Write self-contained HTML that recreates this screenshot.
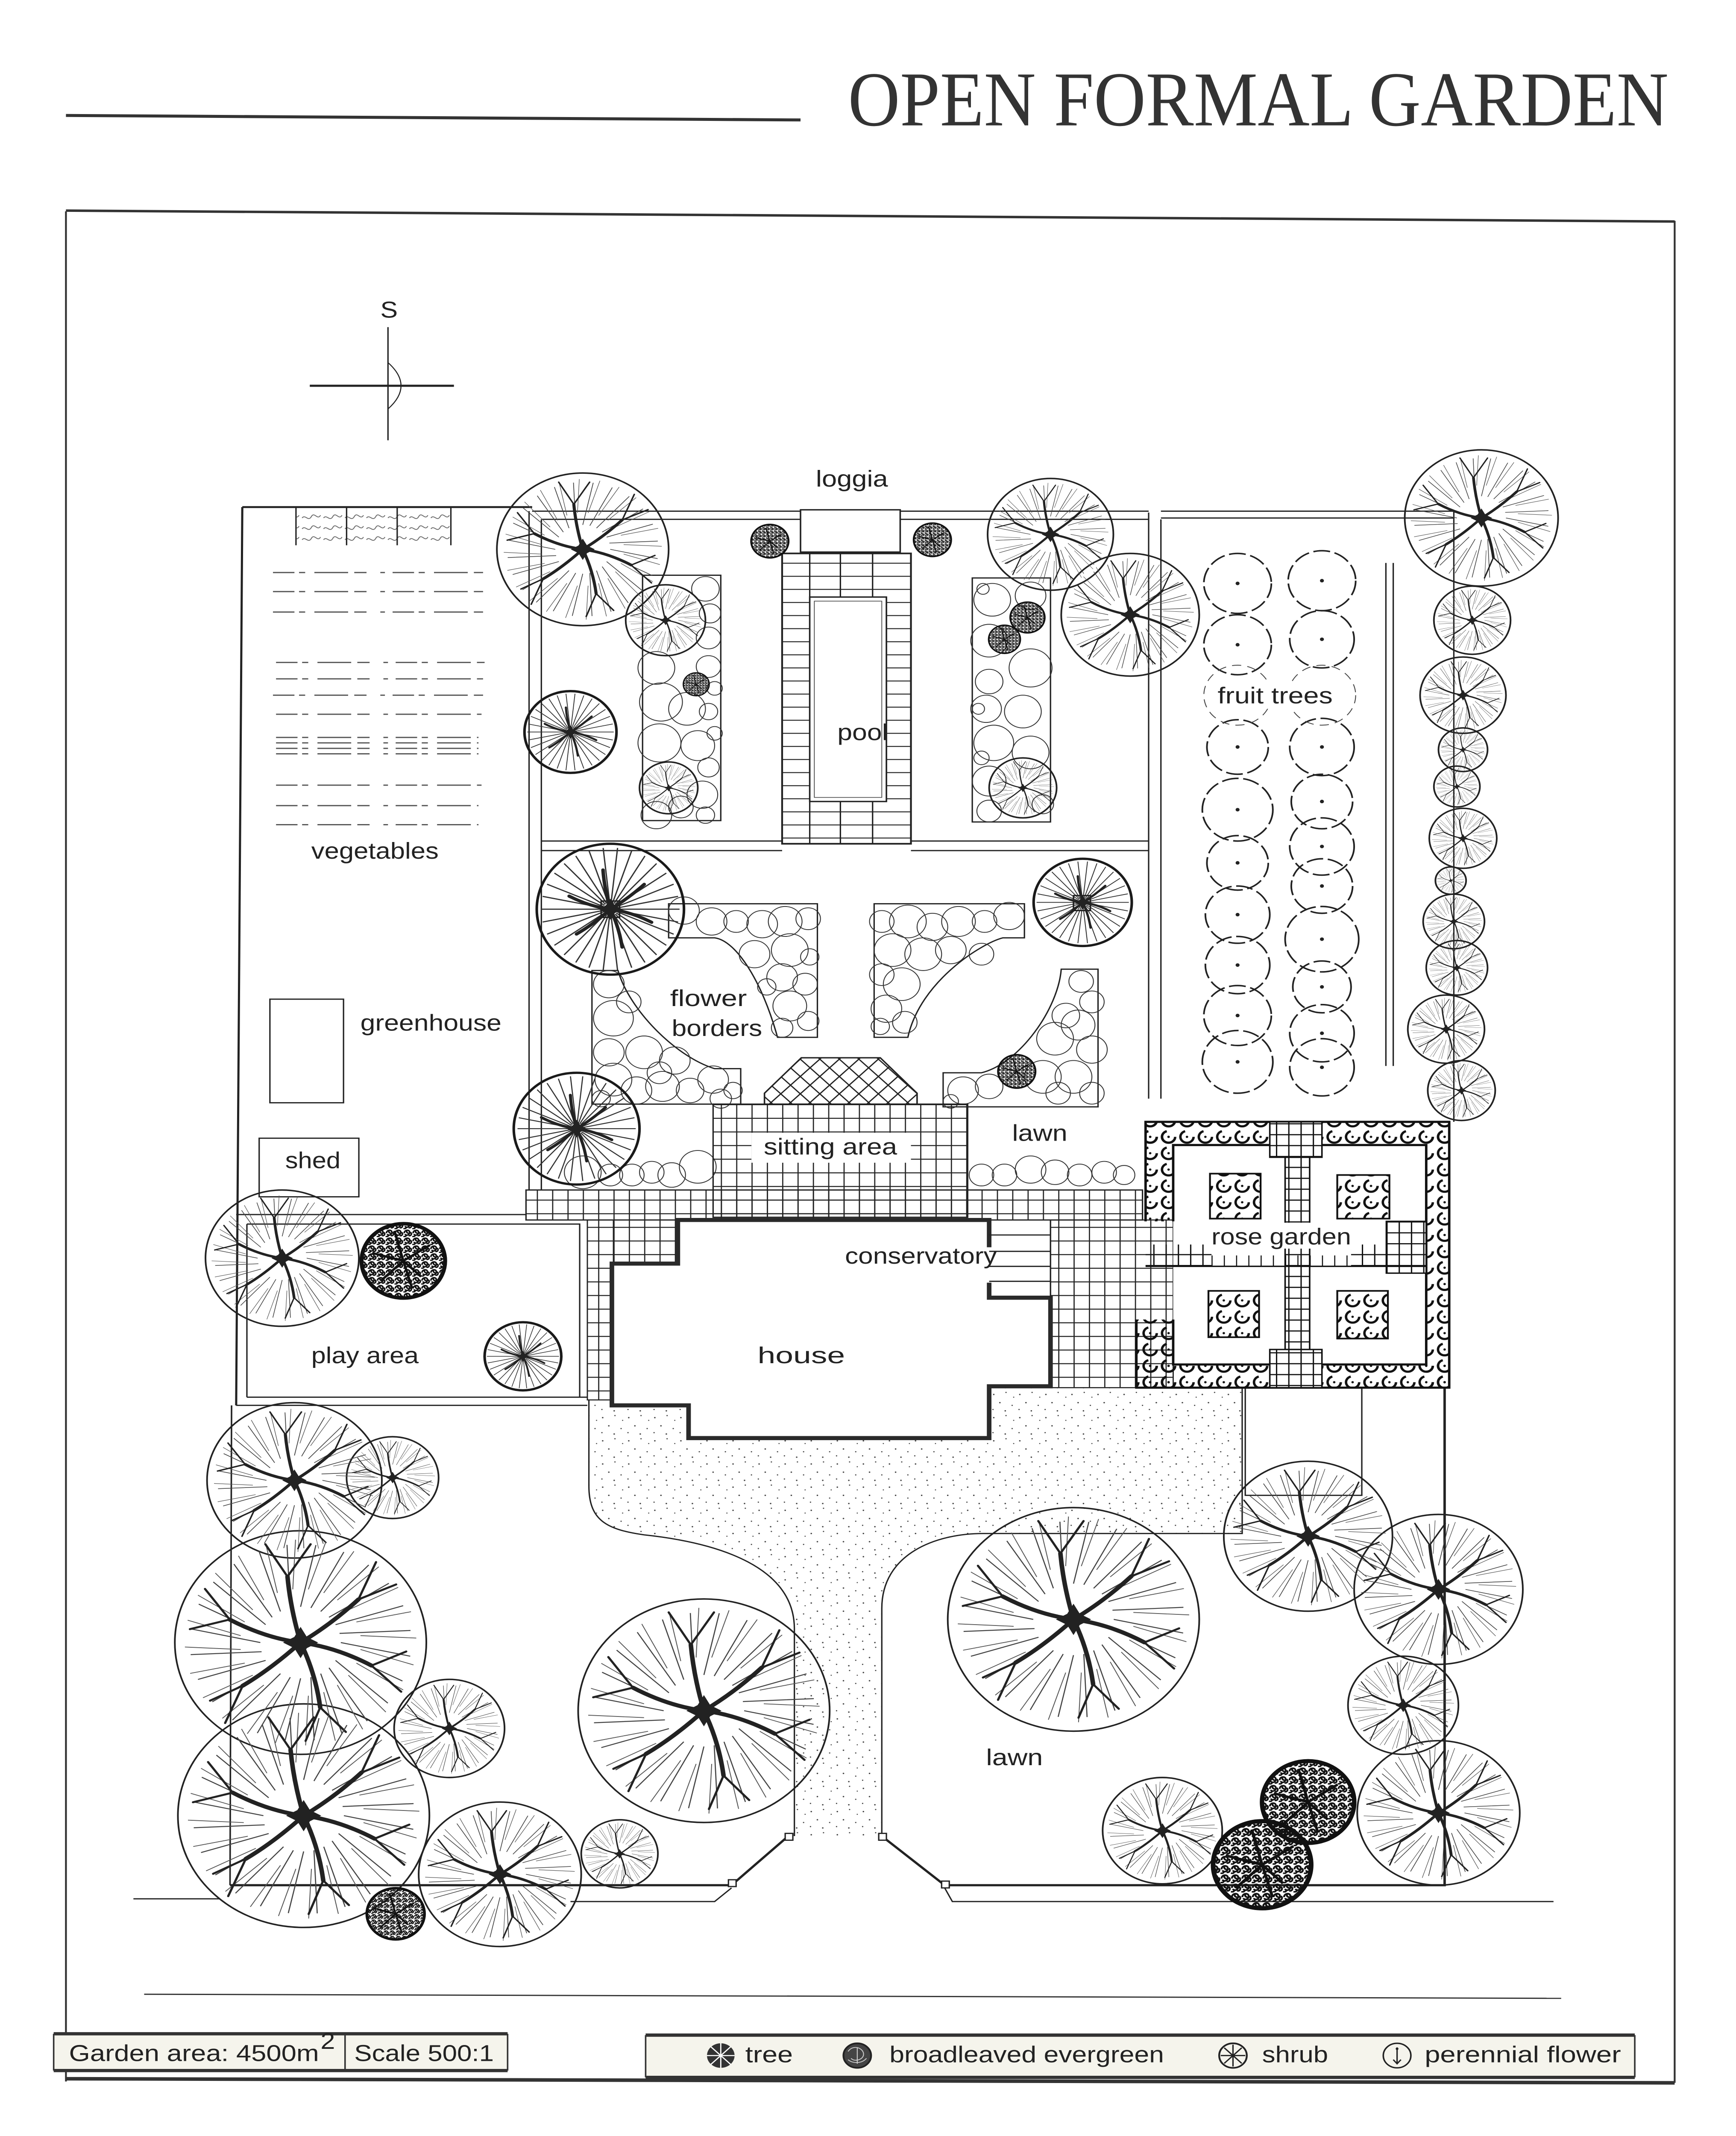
<!DOCTYPE html>
<html><head><meta charset="utf-8"><style>
html,body{margin:0;padding:0;background:#fff;width:100%;height:100%;overflow:hidden;}
svg{display:block;position:fixed;left:0;top:0;width:100vw;height:100vh;}
.o{fill:none;stroke:#222;stroke-width:1.1}
.t{fill:none;stroke:#333;stroke-width:.6}
.f{fill:none;stroke:#222;stroke-width:1.1;stroke-dasharray:11 3}
.ln{fill:none;stroke:#222;stroke-width:.9}
.lab{font-family:"Liberation Sans","DejaVu Sans",sans-serif;fill:#222;font-size:17px}
</style></head><body>
<svg xmlns="http://www.w3.org/2000/svg" xmlns:xlink="http://www.w3.org/1999/xlink" viewBox="0 0 1132 1567" preserveAspectRatio="none">
<defs>
<pattern id="grid" width="10" height="10" patternUnits="userSpaceOnUse"><path d="M0 .4H10M.4 0V10" stroke="#222" stroke-width=".75" fill="none"/></pattern>
<pattern id="grid8" width="8" height="8" patternUnits="userSpaceOnUse"><path d="M0 .4H8M.4 0V8" stroke="#111" stroke-width=".9" fill="none"/></pattern>
<pattern id="hl" width="20" height="9.6" patternUnits="userSpaceOnUse"><path d="M0 .4H20" stroke="#222" stroke-width=".7"/></pattern>
<pattern id="dots" width="17" height="17" patternUnits="userSpaceOnUse"><g fill="#444"><circle cx="2" cy="3" r=".5"/><circle cx="10" cy="1.5" r=".45"/><circle cx="6" cy="9" r=".5"/><circle cx="14" cy="11" r=".45"/><circle cx="1.5" cy="14" r=".45"/><circle cx="9.5" cy="15" r=".5"/><circle cx="15" cy="5" r=".4"/></g></pattern>
<pattern id="diam" width="9" height="9" patternUnits="userSpaceOnUse" patternTransform="rotate(45)"><path d="M0 .4H9M.4 0V9" stroke="#222" stroke-width=".9" fill="none"/></pattern>
<pattern id="scrib" width="10" height="10" patternUnits="userSpaceOnUse"><path d="M1 5C1 1 6 0 7 3C8 7 3 9 2 6M6 8C9 9 10 5 8 4M4 2C3 4 5 5 6 5M0 9C2 10 4 8 3 7" stroke="#111" stroke-width="1.8" fill="none"/></pattern>
<pattern id="rose" width="12" height="12" patternUnits="userSpaceOnUse"><circle cx="6" cy="6" r="4.3" fill="none" stroke="#111" stroke-width="1.6" stroke-dasharray="19 8"/><circle cx="6" cy="6" r=".8" fill="#111"/></pattern>
<pattern id="scribL" width="14" height="8" patternUnits="userSpaceOnUse"><path d="M1 4C3 1 5 7 7 3S11 6 13 2" stroke="#666" stroke-width=".6" fill="none"/></pattern>

<symbol id="T" viewBox="-50 -50 100 100">
<path d="M16 0L43.6 6.1M15.5 4.1L40.5 17.2M13.9 8L34.7 27.1M11.3 11.3L26.5 35.1M8 13.9L16.5 40.8M4.1 15.5L5.4 43.7M0 16L-6.1 43.6M-4.1 15.5L-17.2 40.5M-8 13.9L-27.1 34.7M-11.3 11.3L-35.1 26.5M-13.9 8L-40.8 16.5M-15.5 4.1L-43.7 5.4M-16 0L-43.6 -6.1M-15.5 -4.1L-40.5 -17.2M-13.9 -8L-34.7 -27.1M-11.3 -11.3L-26.5 -35.1M-8 -13.9L-16.5 -40.8M-4.1 -15.5L-5.4 -43.7M0 -16L6.1 -43.6M4.1 -15.5L17.2 -40.5M8 -13.9L27.1 -34.7M11.3 -11.3L35.1 -26.5M13.9 -8L40.8 -16.5M15.5 -4.1L43.7 -5.4" stroke="#444" stroke-width=".45" fill="none"/>
<path d="M23.8 3.1L44.9 10M22.2 9.2L40.8 21.2M19 14.6L33.9 31.1M14.6 19L24.7 38.8M9.2 22.2L13.8 43.9M3.1 23.8L2 46M-3.1 23.8L-10 44.9M-9.2 22.2L-21.2 40.8M-14.6 19L-31.1 33.9M-19 14.6L-38.8 24.7M-22.2 9.2L-43.9 13.8M-23.8 3.1L-46 2M-23.8 -3.1L-44.9 -10M-22.2 -9.2L-40.8 -21.2M-19 -14.6L-33.9 -31.1M-14.6 -19L-24.7 -38.8M-9.2 -22.2L-13.8 -43.9M-3.1 -23.8L-2 -46M3.1 -23.8L10 -44.9M9.2 -22.2L21.2 -40.8M14.6 -19L31.1 -33.9M19 -14.6L38.8 -24.7M22.2 -9.2L43.9 -13.8M23.8 -3.1L46 -2" stroke="#555" stroke-width=".35" fill="none"/>
<path d="M0 0Q14 2 28.2 10.3M0 0Q6 14 7.8 29M0 0Q-12 12 -23 19.3M0 0Q-14 -2 -28.2 -10.3M0 0Q-4 -15 -5.2 -29.5M0 0Q12 -8 23 -19.3" stroke="#222" stroke-width="1.8" stroke-linecap="round" fill="none"/>
<path d="M28.2 10.3L40 22M28.2 10.3L42 4M7.8 29L2 44M7.8 29L18 40M-23 19.3L-36 26M-23 19.3L-30 36M-28.2 -10.3L-44 -6M-28.2 -10.3L-38 -24M-5.2 -29.5L-14 -44M-5.2 -29.5L4 -44M23 -19.3L38 -26M23 -19.3L30 -36" stroke="#222" stroke-width=".9" stroke-linecap="round" fill="none"/>
<path d="M0 -7L2.5 -2.5L7 0L2.5 2.5L0 7L-2.5 2.5L-7 0L-2.5 -2.5Z" fill="#222"/>
</symbol>

<symbol id="S" viewBox="-50 -50 100 100">
<path d="M5 0L47 0M4.9 1L46 9.8M4.6 2L43 19.1M4 2.9L38 27.6M3.3 3.7L31.4 34.9M2.5 4.3L23.5 40.7M1.5 4.8L14.5 44.7M.5 5L4.9 46.8M-.5 5L-4.9 46.8M-1.5 4.8L-14.5 44.7M-2.5 4.3L-23.5 40.7M-3.3 3.7L-31.4 34.9M-4 2.9L-38 27.6M-4.6 2L-43 19.1M-4.9 1L-46 9.8M-5 0L-47 0M-4.9 -1L-46 -9.8M-4.6 -2L-43 -19.1M-4 -2.9L-38 -27.6M-3.3 -3.7L-31.4 -34.9M-2.5 -4.3L-23.5 -40.7M-1.5 -4.8L-14.5 -44.7M-.5 -5L-4.9 -46.8M.5 -5L4.9 -46.8M1.5 -4.8L14.5 -44.7M2.5 -4.3L23.5 -40.7M3.3 -3.7L31.4 -34.9M4 -2.9L38 -27.6M4.6 -2L43 -19.1M4.9 -1L46 -9.8" stroke="#333" stroke-width=".9" fill="none"/>
<path d="M0 0Q14 2 28 10M0 0Q6 14 8 29M0 0Q-12 12 -23 19M0 0Q-14 -2 -28 -10M0 0Q-4 -15 -5 -30M0 0Q12 -8 23 -19" stroke="#222" stroke-width="2.4" stroke-linecap="round" fill="none"/>
<path d="M0 -8L3 -3L8 0L3 3L0 8L-3 3L-8 0L-3 -3Z" fill="#222"/>
</symbol>

<symbol id="E" viewBox="-50 -50 100 100">
<circle r="47" fill="url(#scrib)" stroke="#111" stroke-width="4.5"/>
<path d="M0 0L30 -20M0 0L-25 25M0 0L10 35M0 0L-35 -10M0 0L20 20M0 0L-10 -38" stroke="#111" stroke-width="2.8"/>
</symbol>
</defs>

<!-- title -->
<line x1="43" y1="84.7" x2="522" y2="88" stroke="#333" stroke-width="2.2"/>
<text x="553" y="92" font-family="Liberation Serif, serif" font-size="57" textLength="535" lengthAdjust="spacingAndGlyphs" fill="#333">OPEN FORMAL GARDEN</text>

<!-- frame -->
<line x1="43" y1="154.5" x2="1092" y2="162.5" stroke="#333" stroke-width="1.8"/>
<line x1="43" y1="155" x2="43" y2="1527" stroke="#333" stroke-width="1.2"/>
<line x1="1092" y1="162" x2="1092" y2="1528" stroke="#333" stroke-width="1.2"/>
<line x1="43" y1="1525" x2="1092" y2="1528" stroke="#333" stroke-width="2.6"/>
<line x1="94" y1="1463" x2="1018" y2="1466" stroke="#333" stroke-width=".9"/>

<!-- compass -->
<text x="248" y="233" class="lab" font-size="15">S</text>
<line x1="253" y1="240" x2="253" y2="323" stroke="#222" stroke-width=".9"/>
<line x1="202" y1="283" x2="296" y2="283" stroke="#222" stroke-width="1.6"/>
<path d="M253 266Q270 283 253 300" fill="none" stroke="#222" stroke-width=".7"/>

<!-- dotted driveway -->
<path d="M384 1027L384 1090C384 1115 395 1122 420 1126C470 1132 518 1150 518 1195L518 1347L575 1347L575 1180C575 1140 610 1125 641 1125L810 1125L810 1018L645 1018L400 1030Z" fill="url(#dots)"/>
<path d="M384 1027L384 1090C384 1115 395 1122 420 1126C470 1132 518 1150 518 1195L518 1347M575 1347L575 1180C575 1140 610 1125 641 1125L810 1125L810 1018" class="ln" stroke-width=".8"/>

<!-- vegetable area -->
<line x1="158" y1="372" x2="154" y2="1031" stroke="#222" stroke-width="1.4"/>
<line x1="158" y1="372" x2="347" y2="372" stroke="#222" stroke-width="1.4"/>
<rect x="193" y="373" width="101" height="27" fill="url(#scribL)"/>
<path d="M193 372V400M226 372V400M259 372V400M294 372V400" class="ln"/>
<g stroke="#555" stroke-width=".9" stroke-dasharray="14 3 4 6 22 4 8 9 3 5">
<path d="M178 420H315M178 434H315M178 449H315M180 486H316M180 498H315M178 510H315M180 524H314M180 541H312M180 545H312M180 549H312M180 553H312M180 576H314M180 591H312M180 605H312"/>
</g>
<rect x="176" y="733" width="48" height="76" class="ln" stroke-width=".8"/>
<rect x="169" y="835" width="65" height="43" class="ln"/>
<text x="203" y="630" class="lab" textLength="83" lengthAdjust="spacingAndGlyphs">vegetables</text>
<text x="235" y="756" class="lab" textLength="92" lengthAdjust="spacingAndGlyphs">greenhouse</text>
<text x="186" y="857" class="lab" textLength="36" lengthAdjust="spacingAndGlyphs">shed</text>

<!-- play area -->
<path d="M154 891H343M161 898H378V1025M154 1031H383M161 898V1025M161 1025H383" class="ln" stroke-width="1"/>
<text x="203" y="1000" class="lab" textLength="70" lengthAdjust="spacingAndGlyphs">play area</text>

<!-- front garden boundaries -->
<line x1="151" y1="1031" x2="150" y2="1383" stroke="#222" stroke-width="1"/>
<path d="M150 1383H477L514 1347" fill="none" stroke="#222" stroke-width="1.6"/>
<path d="M575 1347L616 1383H942V1018" fill="none" stroke="#222" stroke-width="1.6"/>
<rect x="475" y="1379" width="5" height="5" fill="#fff" stroke="#222" stroke-width=".9"/>
<rect x="512" y="1345" width="5" height="5" fill="#fff" stroke="#222" stroke-width=".9"/>
<rect x="573" y="1345" width="5" height="5" fill="#fff" stroke="#222" stroke-width=".9"/>
<rect x="614" y="1380" width="5" height="5" fill="#fff" stroke="#222" stroke-width=".9"/>
<path d="M87 1393H143M372 1395H466L477 1385M616 1385L621 1395H1013" class="ln" stroke-width=".8"/>
<path d="M812 1018V1097H888V1018" class="ln" stroke-width="1.1"/>

<!-- formal garden hedges -->
<path d="M345 375V873M353 381V873M347 375H522M353 381H522M587 375H749M587 381H749M749 376V806M757 381V806M353 617H510M353 624H510M594 617H749M594 624H749M757 375H948M757 380H948M948 375V823M903.7 413V782M908.5 413V782" class="ln" stroke-width=".9"/>

<!-- loggia & pool -->
<rect x="522" y="374" width="65" height="31" fill="#fff" stroke="#222" stroke-width="1"/>
<rect x="510" y="406" width="84" height="213" fill="url(#hl)" stroke="#222" stroke-width="1.2"/>
<path d="M528 406V619M548 406V438M569 406V438M548 588V619M569 588V619M578 438V588" class="ln" stroke-width=".8"/>
<rect x="528" y="438" width="50" height="150" fill="#fff" stroke="#222" stroke-width="1"/>
<rect x="531" y="441" width="44" height="144" fill="none" stroke="#444" stroke-width=".5"/>
<text x="546" y="543" class="lab" textLength="33" lengthAdjust="spacingAndGlyphs">pool</text>
<text x="532" y="357" class="lab" font-size="16" textLength="47" lengthAdjust="spacingAndGlyphs">loggia</text>

<!-- pool beds -->
<rect x="419" y="422" width="51" height="180" class="ln" stroke-width=".8"/>
<rect x="634" y="424" width="51" height="179" class="ln" stroke-width=".8"/>
<g class="t">
<circle cx="460" cy="432" r="9"/><circle cx="463" cy="450" r="7"/><circle cx="462" cy="468" r="8"/><circle cx="462" cy="489" r="8"/><circle cx="448" cy="520" r="12"/><circle cx="431" cy="515" r="14"/><circle cx="462" cy="522" r="6"/><circle cx="430" cy="545" r="14"/><circle cx="455" cy="547" r="11"/><circle cx="462" cy="563" r="7"/><circle cx="458" cy="583" r="10"/><circle cx="460" cy="598" r="6"/><circle cx="428" cy="598" r="10"/><circle cx="444" cy="592" r="8"/><circle cx="466" cy="505" r="5"/><circle cx="466" cy="538" r="5"/><circle cx="428" cy="490" r="12"/>
<circle cx="647" cy="440" r="12"/><circle cx="672" cy="437" r="10"/><circle cx="645" cy="470" r="12"/><circle cx="672" cy="490" r="14"/><circle cx="645" cy="500" r="9"/><circle cx="643" cy="520" r="10"/><circle cx="667" cy="522" r="12"/><circle cx="648" cy="545" r="13"/><circle cx="672" cy="552" r="12"/><circle cx="645" cy="573" r="11"/><circle cx="680" cy="590" r="7"/><circle cx="645" cy="595" r="8"/><circle cx="641" cy="432" r="4"/><circle cx="638" cy="520" r="4"/><circle cx="640" cy="556" r="5"/>
</g>

<!-- flower border beds -->
<path d="M436 663H533V761H507C497 720 480 690 466 688H436Z" class="ln" stroke-width=".8"/>
<path d="M570 663H668V688H654C640 692 600 720 592 761H570Z" class="ln" stroke-width=".8"/>
<path d="M692 711H716V812H615V787H640C665 780 690 740 692 711Z" class="ln" stroke-width=".8"/>
<path d="M386 712H403C410 740 440 775 466 784H483V810H386Z" class="ln" stroke-width=".8"/>
<g class="t">
<circle cx="446" cy="668" r="10"/><circle cx="464" cy="676" r="10"/><circle cx="480" cy="676" r="8"/><circle cx="497" cy="678" r="10"/><circle cx="512" cy="676" r="11"/><circle cx="527" cy="674" r="8"/><circle cx="515" cy="697" r="12"/><circle cx="528" cy="702" r="6"/><circle cx="510" cy="717" r="10"/><circle cx="525" cy="722" r="8"/><circle cx="515" cy="738" r="11"/><circle cx="527" cy="749" r="7"/><circle cx="510" cy="754" r="7"/><circle cx="492" cy="700" r="10"/><circle cx="500" cy="724" r="6"/>
<circle cx="575" cy="676" r="8"/><circle cx="592" cy="676" r="12"/><circle cx="608" cy="680" r="10"/><circle cx="625" cy="676" r="11"/><circle cx="642" cy="676" r="8"/><circle cx="658" cy="672" r="10"/><circle cx="582" cy="697" r="12"/><circle cx="575" cy="715" r="8"/><circle cx="588" cy="722" r="12"/><circle cx="578" cy="740" r="10"/><circle cx="590" cy="750" r="8"/><circle cx="574" cy="753" r="6"/><circle cx="602" cy="700" r="12"/><circle cx="620" cy="697" r="10"/><circle cx="640" cy="700" r="8"/>
<circle cx="705" cy="720" r="8"/><circle cx="712" cy="735" r="8"/><circle cx="703" cy="752" r="11"/><circle cx="712" cy="770" r="10"/><circle cx="700" cy="790" r="12"/><circle cx="712" cy="802" r="8"/><circle cx="628" cy="800" r="10"/><circle cx="645" cy="797" r="9"/><circle cx="680" cy="790" r="12"/><circle cx="690" cy="802" r="8"/><circle cx="620" cy="808" r="5"/><circle cx="688" cy="762" r="12"/><circle cx="695" cy="745" r="9"/>
<circle cx="397" cy="722" r="10"/><circle cx="400" cy="747" r="13"/><circle cx="397" cy="772" r="10"/><circle cx="400" cy="792" r="12"/><circle cx="392" cy="806" r="6"/><circle cx="415" cy="800" r="10"/><circle cx="432" cy="797" r="11"/><circle cx="450" cy="800" r="9"/><circle cx="465" cy="792" r="10"/><circle cx="470" cy="806" r="7"/><circle cx="478" cy="800" r="6"/><circle cx="420" cy="772" r="12"/><circle cx="440" cy="778" r="10"/><circle cx="410" cy="735" r="8"/><circle cx="430" cy="787" r="8"/>
<circle cx="380" cy="860" r="12"/><circle cx="398" cy="862" r="8"/><circle cx="412" cy="862" r="8"/><circle cx="425" cy="860" r="8"/><circle cx="438" cy="862" r="9"/><circle cx="455" cy="856" r="12"/>
<circle cx="640" cy="862" r="8"/><circle cx="655" cy="862" r="8"/><circle cx="672" cy="858" r="10"/><circle cx="688" cy="860" r="9"/><circle cx="704" cy="862" r="8"/><circle cx="720" cy="860" r="8"/><circle cx="733" cy="862" r="7"/>
</g>
<text x="437" y="738" class="lab" textLength="50" lengthAdjust="spacingAndGlyphs">flower</text>
<text x="438" y="760" class="lab" textLength="59" lengthAdjust="spacingAndGlyphs">borders</text>

<!-- sitting area & paving -->
<polygon points="498.5,810 498.5,802 522.5,776 574,776 598,802 598,810" fill="url(#diam)" stroke="#222" stroke-width="1"/>
<rect x="465" y="810" width="166" height="83" fill="url(#grid)" stroke="#222" stroke-width=".9"/>
<rect x="343" y="873" width="402" height="22" fill="url(#grid)" stroke="#222" stroke-width=".9"/>
<rect x="383" y="895" width="17" height="132" fill="url(#grid)" stroke="#222" stroke-width=".8"/>
<rect x="400" y="895" width="42" height="32" fill="url(#grid)"/>
<rect x="685" y="895" width="80" height="123" fill="url(#grid)" stroke="#222" stroke-width=".8"/>
<rect x="490" y="831" width="104" height="22" fill="#fff"/>
<text x="498" y="847" class="lab" textLength="87" lengthAdjust="spacingAndGlyphs">sitting area</text>
<text x="660" y="837" class="lab" textLength="36" lengthAdjust="spacingAndGlyphs">lawn</text>

<!-- house -->
<polygon points="442,895 645,895 645,1017 645,1055 449,1055 449,1031 399,1031 399,927 442,927" fill="#fff"/>
<path d="M645 915V895H442V927H399V1031H449V1055H645V1017H685V952H645V941" fill="none" stroke="#2a2a2a" stroke-width="3"/>
<path d="M645 906H685M645 918H685M645 929H685M645 940H685M685 895V952" class="ln" stroke-width=".8"/>
<text x="494" y="1000" class="lab" font-size="23" textLength="57" lengthAdjust="spacingAndGlyphs">house</text>
<text x="551" y="927" class="lab" font-size="17" textLength="99" lengthAdjust="spacingAndGlyphs">conservatory</text>

<!-- rose garden -->
<rect x="765" y="840" width="165" height="161" fill="#fff"/>
<rect x="747" y="823" width="198" height="17" fill="url(#rose)"/>
<rect x="747" y="1001" width="198" height="17" fill="url(#rose)"/>
<rect x="930" y="823" width="15" height="195" fill="url(#rose)"/>
<rect x="747" y="823" width="18" height="73" fill="url(#rose)"/>
<rect x="741" y="968" width="24" height="50" fill="url(#rose)"/>
<path d="M747 896V823H945V1018H741V968M765 896V840H930V1001H765V968" fill="none" stroke="#111" stroke-width="1.6"/>
<rect x="828" y="823" width="34" height="26" fill="#fff"/><rect x="828" y="823" width="34" height="26" fill="url(#grid8)" stroke="#111" stroke-width="1"/>
<rect x="828" y="990" width="34" height="28" fill="#fff"/><rect x="828" y="990" width="34" height="28" fill="url(#grid8)" stroke="#111" stroke-width="1"/>
<rect x="904" y="896" width="26" height="38" fill="#fff"/><rect x="904" y="896" width="26" height="38" fill="url(#grid8)" stroke="#111" stroke-width="1"/>
<rect x="838" y="849" width="16" height="141" fill="url(#grid8)" stroke="#111" stroke-width="1"/>
<rect x="747" y="913" width="43" height="16" fill="url(#grid8)"/>
<rect x="881" y="913" width="23" height="16" fill="url(#grid8)"/>
<line x1="790" y1="925" x2="881" y2="925" stroke="#111" stroke-width="8" stroke-dasharray=".7 7.3"/>
<line x1="747" y1="929" x2="930" y2="929" stroke="#111" stroke-width="1"/>
<rect x="789" y="861" width="33" height="33" fill="url(#rose)" stroke="#111" stroke-width="1.2"/>
<rect x="872" y="862" width="34" height="32" fill="url(#rose)" stroke="#111" stroke-width="1.2"/>
<rect x="788" y="947" width="33" height="34" fill="url(#rose)" stroke="#111" stroke-width="1.2"/>
<rect x="872" y="947" width="33" height="35" fill="url(#rose)" stroke="#111" stroke-width="1.2"/>
<rect x="786" y="897" width="98" height="19" fill="#fff"/>
<text x="790" y="913" class="lab" textLength="91" lengthAdjust="spacingAndGlyphs">rose garden</text>

<!-- fruit trees -->
<g class="f">
<circle cx="807" cy="428" r="22"/><circle cx="807" cy="473" r="22"/><circle cx="807" cy="548" r="20"/><circle cx="807" cy="594" r="23"/><circle cx="807" cy="633" r="20"/><circle cx="807" cy="671" r="21"/><circle cx="807" cy="708" r="21"/><circle cx="807" cy="745" r="22"/><circle cx="807" cy="779" r="23"/>
<circle cx="862" cy="426" r="22"/><circle cx="862" cy="469" r="21"/><circle cx="862" cy="548" r="21"/><circle cx="862" cy="588" r="20"/><circle cx="862" cy="621" r="21"/><circle cx="862" cy="650" r="20"/><circle cx="862" cy="689" r="24"/><circle cx="862" cy="724" r="19"/><circle cx="862" cy="758" r="21"/><circle cx="862" cy="783" r="21"/>
</g>
<g fill="none" stroke="#444" stroke-width=".6" stroke-dasharray="6 4"><circle cx="807" cy="510" r="22"/><circle cx="862" cy="510" r="22"/></g>
<g fill="#222"><circle cx="807" cy="428" r="1.3"/><circle cx="807" cy="473" r="1.3"/><circle cx="807" cy="548" r="1.3"/><circle cx="807" cy="594" r="1.3"/><circle cx="807" cy="633" r="1.3"/><circle cx="807" cy="671" r="1.3"/><circle cx="807" cy="708" r="1.3"/><circle cx="807" cy="745" r="1.3"/><circle cx="807" cy="779" r="1.3"/><circle cx="862" cy="426" r="1.3"/><circle cx="862" cy="469" r="1.3"/><circle cx="862" cy="548" r="1.3"/><circle cx="862" cy="588" r="1.3"/><circle cx="862" cy="621" r="1.3"/><circle cx="862" cy="650" r="1.3"/><circle cx="862" cy="689" r="1.3"/><circle cx="862" cy="724" r="1.3"/><circle cx="862" cy="758" r="1.3"/><circle cx="862" cy="783" r="1.3"/></g>
<rect x="792" y="500" width="80" height="20" fill="#fff"/>
<text x="794" y="516" class="lab" textLength="75" lengthAdjust="spacingAndGlyphs">fruit trees</text>

<!-- trees (T) -->
<g class="o">
<circle cx="380" cy="403" r="56"/><circle cx="685" cy="392" r="41"/><circle cx="737" cy="451" r="45"/><circle cx="966" cy="380" r="50"/><circle cx="434" cy="455" r="26"/><circle cx="436" cy="578" r="19"/><circle cx="667" cy="578" r="22"/>
<circle cx="960" cy="455" r="25"/><circle cx="954" cy="510" r="28"/><circle cx="954" cy="550" r="16"/><circle cx="950" cy="577" r="15"/><circle cx="954" cy="615" r="22"/><circle cx="946" cy="646" r="10"/><circle cx="948" cy="676" r="20"/><circle cx="950" cy="710" r="20"/><circle cx="943" cy="755" r="25"/><circle cx="953" cy="800" r="22"/>
<circle cx="184" cy="923" r="50"/><circle cx="192" cy="1086" r="57"/><circle cx="256" cy="1084" r="30"/><circle cx="196" cy="1205" r="82"/><circle cx="293" cy="1268" r="36"/><circle cx="198" cy="1332" r="82"/><circle cx="326" cy="1375" r="53"/><circle cx="404" cy="1360" r="25"/><circle cx="459" cy="1255" r="82"/><circle cx="700" cy="1188" r="82"/><circle cx="853" cy="1127" r="55"/><circle cx="938" cy="1166" r="55"/><circle cx="915" cy="1251" r="36"/><circle cx="938" cy="1330" r="53"/><circle cx="758" cy="1343" r="39"/>
</g>
<use href="#T" xlink:href="#T" x="324" y="347" width="112" height="112"/>
<use href="#T" xlink:href="#T" x="644" y="351" width="82" height="82"/>
<use href="#T" xlink:href="#T" x="692" y="406" width="90" height="90"/>
<use href="#T" xlink:href="#T" x="916" y="330" width="100" height="100"/>
<use href="#T" xlink:href="#T" x="408" y="429" width="52" height="52"/>
<use href="#T" xlink:href="#T" x="417" y="559" width="38" height="38"/>
<use href="#T" xlink:href="#T" x="645" y="556" width="44" height="44"/>
<use href="#T" xlink:href="#T" x="935" y="430" width="50" height="50"/>
<use href="#T" xlink:href="#T" x="926" y="482" width="56" height="56"/>
<use href="#T" xlink:href="#T" x="938" y="534" width="32" height="32"/>
<use href="#T" xlink:href="#T" x="935" y="562" width="30" height="30"/>
<use href="#T" xlink:href="#T" x="932" y="593" width="44" height="44"/>
<use href="#T" xlink:href="#T" x="936" y="636" width="20" height="20"/>
<use href="#T" xlink:href="#T" x="928" y="656" width="40" height="40"/>
<use href="#T" xlink:href="#T" x="930" y="690" width="40" height="40"/>
<use href="#T" xlink:href="#T" x="918" y="730" width="50" height="50"/>
<use href="#T" xlink:href="#T" x="931" y="778" width="44" height="44"/>
<use href="#T" xlink:href="#T" x="134" y="873" width="100" height="100"/>
<use href="#T" xlink:href="#T" x="135" y="1029" width="114" height="114"/>
<use href="#T" xlink:href="#T" x="226" y="1054" width="60" height="60"/>
<use href="#T" xlink:href="#T" x="114" y="1123" width="164" height="164"/>
<use href="#T" xlink:href="#T" x="257" y="1232" width="72" height="72"/>
<use href="#T" xlink:href="#T" x="116" y="1250" width="164" height="164"/>
<use href="#T" xlink:href="#T" x="273" y="1322" width="106" height="106"/>
<use href="#T" xlink:href="#T" x="379" y="1335" width="50" height="50"/>
<use href="#T" xlink:href="#T" x="377" y="1173" width="164" height="164"/>
<use href="#T" xlink:href="#T" x="618" y="1106" width="164" height="164"/>
<use href="#T" xlink:href="#T" x="798" y="1072" width="110" height="110"/>
<use href="#T" xlink:href="#T" x="883" y="1111" width="110" height="110"/>
<use href="#T" xlink:href="#T" x="879" y="1215" width="72" height="72"/>
<use href="#T" xlink:href="#T" x="885" y="1277" width="106" height="106"/>
<use href="#T" xlink:href="#T" x="719" y="1304" width="78" height="78"/>

<!-- darker shrub trees (S) -->
<g fill="none" stroke="#1a1a1a" stroke-width="1.7">
<circle cx="372" cy="537" r="30"/><circle cx="398" cy="667" r="48"/><circle cx="706" cy="662" r="32"/><circle cx="376" cy="828" r="41"/><circle cx="341" cy="995" r="25"/>
</g>
<use href="#S" xlink:href="#S" x="342" y="507" width="60" height="60"/>
<use href="#S" xlink:href="#S" x="350" y="619" width="96" height="96"/>
<use href="#S" xlink:href="#S" x="674" y="630" width="64" height="64"/>
<use href="#S" xlink:href="#S" x="335" y="787" width="82" height="82"/>
<use href="#S" xlink:href="#S" x="316" y="970" width="50" height="50"/>
<rect x="392" y="661" width="12" height="12" fill="none" stroke="#222" stroke-width="1"/>
<rect x="700" y="657" width="11" height="11" fill="none" stroke="#222" stroke-width="1"/>

<!-- evergreens (E) -->
<use href="#E" xlink:href="#E" x="489" y="384" width="26" height="26"/>
<use href="#E" xlink:href="#E" x="595" y="383" width="26" height="26"/>
<use href="#E" xlink:href="#E" x="445" y="493" width="18" height="18"/>
<use href="#E" xlink:href="#E" x="658" y="441" width="24" height="24"/>
<use href="#E" xlink:href="#E" x="644" y="458" width="22" height="22"/>
<use href="#E" xlink:href="#E" x="650" y="773" width="26" height="26"/>
<use href="#E" xlink:href="#E" x="234" y="896" width="58" height="58"/>
<use href="#E" xlink:href="#E" x="821" y="1290" width="64" height="64"/>
<use href="#E" xlink:href="#E" x="789" y="1334" width="68" height="68"/>
<use href="#E" xlink:href="#E" x="236" y="1384" width="44" height="40"/>

<text x="643" y="1295" class="lab" textLength="37" lengthAdjust="spacingAndGlyphs">lawn</text>

<!-- legend -->
<rect x="35" y="1492" width="296" height="27" fill="#f5f4ec"/>
<path d="M35 1492H331M35 1519H331" stroke="#333" stroke-width="2.4"/>
<path d="M35 1492V1519M331 1492V1519M225 1492V1519" stroke="#333" stroke-width="1"/>
<text x="45" y="1512" class="lab" textLength="163" lengthAdjust="spacingAndGlyphs">Garden area: 4500m</text>
<text x="209" y="1503" class="lab" font-size="8">2</text>
<text x="231" y="1512" class="lab" textLength="91" lengthAdjust="spacingAndGlyphs">Scale 500:1</text>

<rect x="421" y="1493" width="645" height="31" fill="#f5f4ec"/>
<path d="M421 1493H1066M421 1524H1066" stroke="#333" stroke-width="2.4"/>
<path d="M421 1493V1524M1066 1493V1524" stroke="#333" stroke-width="1"/>
<circle cx="470" cy="1508" r="9" fill="#333"/>
<path d="M470 1499V1517M461 1508H479M463.6 1501.6L476.4 1514.4M476.4 1501.6L463.6 1514.4" stroke="#fff" stroke-width=".8"/>
<text x="486" y="1513" class="lab" textLength="31" lengthAdjust="spacingAndGlyphs">tree</text>
<circle cx="559" cy="1508" r="9" fill="#444" stroke="#222" stroke-width="1.2"/>
<path d="M553 1505C556 1500 562 1502 563 1506C564 1511 557 1513 555 1510M559 1502L559 1514M553 1511C556 1514 562 1514 565 1510" stroke="#ccc" stroke-width=".6" fill="none"/>
<text x="580" y="1513" class="lab" textLength="179" lengthAdjust="spacingAndGlyphs">broadleaved evergreen</text>
<circle cx="804" cy="1508" r="9" fill="none" stroke="#222" stroke-width="1.2"/>
<path d="M804 1500V1516M796 1508H812M798.3 1502.3L809.7 1513.7M809.7 1502.3L798.3 1513.7" stroke="#222" stroke-width=".9"/>
<text x="823" y="1513" class="lab" textLength="43" lengthAdjust="spacingAndGlyphs">shrub</text>
<circle cx="911" cy="1508" r="9" fill="none" stroke="#222" stroke-width="1"/>
<path d="M911 1502V1514M908.5 1511L911 1514L913.5 1511" stroke="#222" stroke-width=".9" fill="none"/>
<circle cx="911" cy="1503" r=".9" fill="#222"/>
<text x="929" y="1513" class="lab" textLength="128" lengthAdjust="spacingAndGlyphs">perennial flower</text>
</svg>
</body></html>
